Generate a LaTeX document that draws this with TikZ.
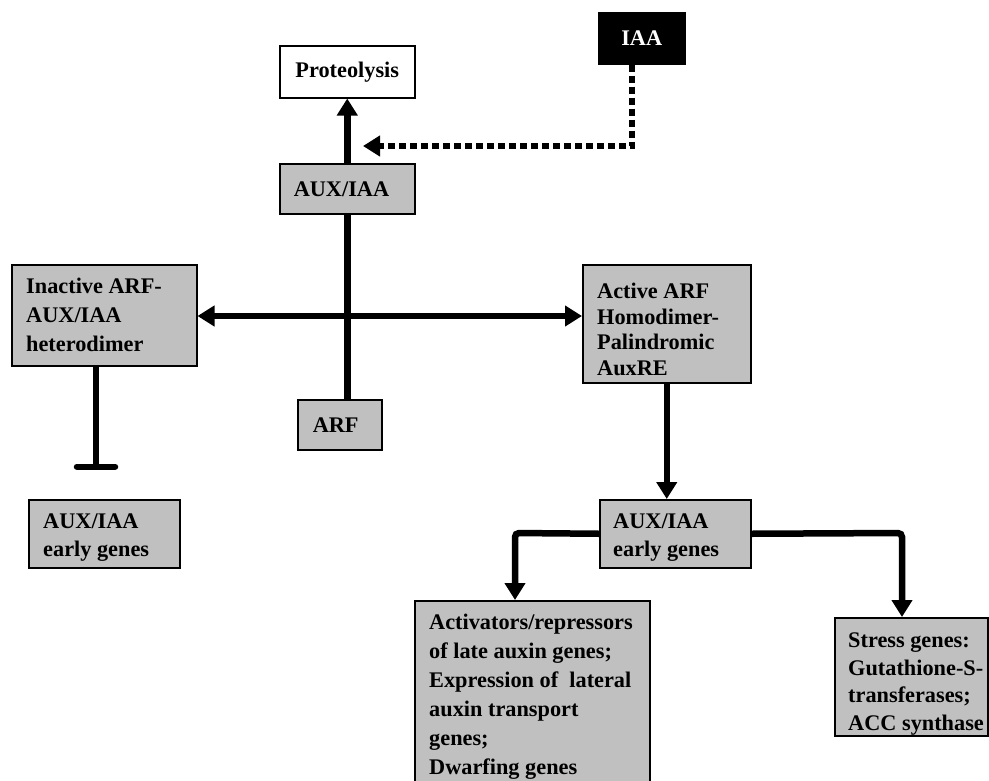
\documentclass[tikz,border=0pt]{standalone}
\usepackage{fontspec}
\setmainfont{Liberation Serif}
\usetikzlibrary{arrows.meta}
\definecolor{boxgray}{RGB}{192,192,192}
\tikzset{
  lbl/.style={font=\fontsize{22.3}{25.6}\selectfont\bfseries},
  gbox/.style={rectangle, draw=black, fill=boxgray, line width=1.5pt, inner sep=0pt, anchor=north west, lbl},
  wbox/.style={gbox, fill=white},
  bbox/.style={gbox, fill=black, text=white},
  txt/.style={align=left, inner sep=0pt, anchor=north west, font=\fontsize{22.3}{#1}\selectfont\bfseries},
  conn/.style={line width=6.5pt, line cap=butt},
  arr/.style={conn, -{Triangle[length=17pt,width=20pt]}},
  dblarr/.style={conn, {Triangle[length=17pt,width=20pt]}-{Triangle[length=17pt,width=20pt]}},
  dotarr/.style={line width=6pt, dash pattern=on 7pt off 4pt, -{Triangle[length=17pt,width=20pt]}},
  teeline/.style={conn, -{Bar[width=38pt,round]}},
}
\begin{document}
\begin{tikzpicture}[x=1pt,y=-1pt]
\useasboundingbox (0,0) rectangle (989,780);
\clip (0,0) rectangle (989,780);

% boxes
\node[wbox, minimum width=135pt, minimum height=52pt] (prot) at (279,45) {Proteolysis};
\node[bbox, minimum width=86pt, minimum height=51pt] (iaa) at (598,12) {IAA};
\node[gbox, minimum width=135pt, minimum height=50pt, text width=107pt, align=left] (aux) at (279,163) {AUX/IAA};
\node[gbox, minimum width=185pt, minimum height=101pt] (inact) at (11,264) {};
\node[gbox, minimum width=168pt, minimum height=118pt] (act) at (582,264) {};
\node[gbox, minimum width=84pt, minimum height=50pt, text width=54pt, align=left] (arf) at (297,399) {ARF};
\node[gbox, minimum width=151pt, minimum height=68pt] (learly) at (28,499) {};
\node[gbox, minimum width=151pt, minimum height=68pt] (mearly) at (599,499) {};
\node[gbox, minimum width=235pt, minimum height=192pt] (actv) at (414,600) {};
\node[gbox, minimum width=153pt, minimum height=118pt] (stress) at (834,617) {};

% box texts
\node[txt=29pt] (inactT) at (26,278) {Inactive ARF-\\AUX/IAA\\heterodimer};
\node[txt=25.6pt] (actT) at (597,283) {Active ARF\\Homodimer-\\Palindromic\\AuxRE};
\node[txt=28pt] (learlyT) at (43,514) {AUX/IAA\\early genes};
\node[txt=28pt] (mearlyT) at (613,514) {AUX/IAA\\early genes};
\node[txt=29pt] (actvT) at (429,614) {Activators/repressors\\of late auxin genes;\\Expression of\ \ lateral\\auxin transport\\genes;\\Dwarfing genes};
\node[txt=27.5pt] (stressT) at (848,633) {Stress genes:\\Gutathione-S-\\transferases;\\ACC synthase};

% helper coordinates
\coordinate (mid) at (347,316);
\coordinate (iaaBend) at (632,146);
\coordinate (iaaTip) at (363,146);
\coordinate (tee) at (96,470);
\coordinate (lb) at (515,533);
\coordinate (rb) at (902,533);

% connectors
\draw[arr] (aux.north) -- (prot.south);
\draw[dotarr] (iaa.south -| iaaBend) -- (iaaBend) -- (iaaTip);
\draw[conn] (aux.south) -- (aux.south |- arf.north);
\draw[dblarr] (inact.east |- mid) -- (act.west |- mid);
\draw[teeline] (inact.south -| tee) -- (tee);
\draw[arr] (act.south) -- (act.south |- mearly.north);
\draw[arr, rounded corners=4pt] (mearly.west) -- (lb) -- (lb |- actv.north);
\draw[arr, rounded corners=4pt] (mearly.east) -- (rb) -- (rb |- stress.north);
\end{tikzpicture}
\end{document}
